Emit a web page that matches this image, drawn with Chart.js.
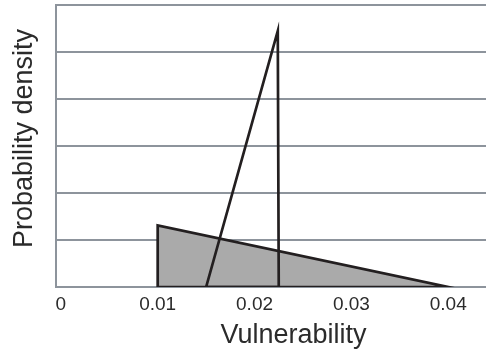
<!DOCTYPE html>
<html>
<head>
<meta charset="utf-8">
<script src="https://cdn.jsdelivr.net/npm/chart.js@4/dist/chart.umd.min.js"></script>
<style>
  html, body { margin: 0; padding: 0; background: #fff; }
  canvas { display: block; }
</style>
</head>
<body>
<canvas id="chart" width="486" height="352"></canvas>
<script>
// x tick positions and their labels
const tickValues = [0, 0.01, 0.02, 0.03, 0.04];
const tickLabels = ['0', '0.01', '0.02', '0.03', '0.04'];

// grey (filled) triangle: vertices, closed back to the start
const greyX = [0.01, 0.01, 0.04, 0.01];
const greyY = [0, 1.31, 0, 0];

// black outline triangle
const blackX = [0.015, 0.0224, 0.0225, 0.015];
const blackY = [0, 5.45, 0, 0];

const toPoints = (xs, ys) => xs.map((x, i) => ({ x: x, y: ys[i] }));

const gridColor = '#8d949c';
const textColor = '#2b2b2b';
const fontFamily = '"Liberation Sans", Arial, sans-serif';

document.addEventListener('DOMContentLoaded', () => {
    new Chart(document.getElementById('chart'), {
        type: 'line',
        data: {
            datasets: [
                {
                    data: toPoints(greyX, greyY),
                    order: 2, // drawn underneath
                    borderColor: '#231f20',
                    borderWidth: 2.7,
                    backgroundColor: '#aaaaaa',
                    fill: 'shape',
                    pointRadius: 0,
                    tension: 0
                },
                {
                    data: toPoints(blackX, blackY),
                    order: 1,
                    borderColor: '#231f20',
                    borderWidth: 2.7,
                    fill: false,
                    pointRadius: 0,
                    tension: 0
                }
            ]
        },
        options: {
            responsive: false,
            animation: false,
            layout: { padding: { top: 5, right: 0, bottom: 0, left: 0 } },
            plugins: {
                legend: { display: false },
                tooltip: { enabled: false }
            },
            scales: {
                x: {
                    type: 'linear',
                    min: -0.0005,
                    max: 0.0439,
                    afterBuildTicks: scale => {
                        scale.ticks = tickValues.map(v => ({ value: v }));
                    },
                    afterFit: scale => { scale.height = 65; },
                    grid: { display: false, drawTicks: false },
                    border: { display: true, color: gridColor, width: 2 },
                    ticks: {
                        padding: 6,
                        color: textColor,
                        font: { family: fontFamily, size: 19 },
                        callback: (value) => tickLabels[tickValues.indexOf(value)]
                    },
                    title: {
                        display: true,
                        // leading spaces push the title right, as in the original
                        text: '      Vulnerability',
                        color: textColor,
                        font: { family: fontFamily, size: 27, lineHeight: 1.2 },
                        padding: { top: 0, bottom: 0 }
                    }
                },
                y: {
                    min: 0,
                    max: 6,
                    afterFit: scale => { scale.width = 56; },
                    grid: { color: gridColor, lineWidth: 2, drawTicks: false },
                    border: { display: true, color: gridColor, width: 2 },
                    ticks: { display: false, stepSize: 1 },
                    title: {
                        display: true,
                        text: '  Probability density',
                        color: textColor,
                        font: { family: fontFamily, size: 27, lineHeight: 1.2 },
                        padding: { top: 8, bottom: 0 }
                    }
                }
            }
        }
    });
});
</script>
</body>
</html>
